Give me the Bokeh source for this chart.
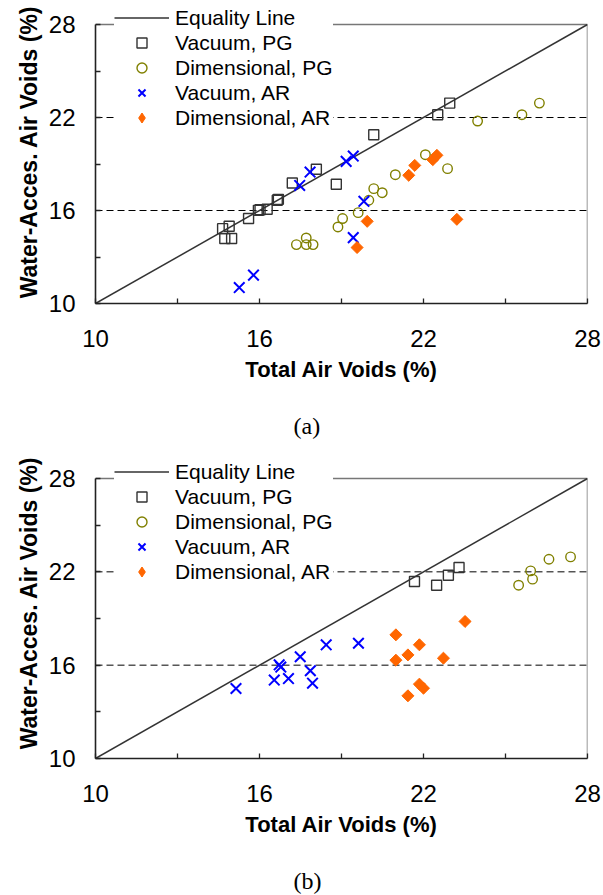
from bokeh.plotting import figure
from bokeh.models import (Range1d, FixedTicker, Span, Legend, LegendItem, Title)
from bokeh.layouts import column
from bokeh.embed import file_html
from bokeh.resources import INLINE
import numpy as np

# ---------------- data ----------------
axis_lim = [10, 28]
eq_line = [10, 28]
ref_levels = [16, 22]
major_ticks = [10, 16, 22, 28]
minor_ticks = [13, 19, 25]

# (a)
a_vac_pg_x = [14.65, 14.89, 14.73, 14.98, 15.60, 15.96, 16.02, 16.28, 16.65, 16.69, 17.20, 18.08, 18.81, 20.18, 22.52, 22.96]
a_vac_pg_y = [14.83, 14.98, 14.19, 14.19, 15.48, 16.01, 16.05, 16.08, 16.66, 16.72, 17.77, 18.66, 17.69, 20.89, 22.18, 22.93]
a_dim_pg_x = [17.35, 17.71, 17.71, 17.96, 18.87, 19.04, 19.61, 20.00, 20.18, 20.49, 20.97, 22.07, 22.88, 23.98, 25.60, 26.24]
a_dim_pg_y = [13.80, 13.80, 14.23, 13.80, 14.94, 15.48, 15.86, 16.66, 17.41, 17.15, 18.31, 19.60, 18.70, 21.77, 22.18, 22.93]
a_vac_ar_x = [15.26, 15.78, 17.47, 17.85, 19.17, 19.43, 19.43, 19.82]
a_vac_ar_y = [11.03, 11.83, 17.62, 18.48, 19.17, 19.51, 14.25, 16.59]
a_dim_ar_x = [19.57, 19.94, 21.46, 21.68, 22.34, 22.49, 23.22]
a_dim_ar_y = [13.61, 15.30, 18.27, 18.91, 19.28, 19.56, 15.43]

# (b)
b_vac_pg_x = [21.67, 22.48, 22.91, 23.30]
b_vac_pg_y = [21.38, 21.14, 21.78, 22.28]
b_dim_pg_x = [25.48, 25.92, 25.99, 26.59, 27.38]
b_dim_pg_y = [21.14, 22.06, 21.53, 22.81, 22.96]
b_vac_ar_x = [15.14, 16.54, 16.72, 16.78, 17.06, 17.49, 17.86, 17.94, 18.44, 19.62]
b_vac_ar_y = [14.50, 15.04, 16.02, 15.88, 15.14, 16.54, 15.64, 14.84, 17.31, 17.41]
b_dim_ar_x = [20.99, 20.99, 21.43, 21.85, 21.43, 21.85, 22.00, 22.73, 23.52]
b_dim_ar_y = [17.95, 16.32, 16.66, 17.31, 14.03, 14.78, 14.52, 16.45, 18.81]

x_title = "Total Air Voids (%)"
y_title = "Water-Acces. Air Voids (%)"
labels = ["Equality Line", "Vacuum, PG", "Dimensional, PG", "Vacuum, AR", "Dimensional, AR"]

SANS = "Liberation Sans"
SERIF = "Liberation Serif"

SQ = dict(marker="square", fill_color=None, line_color="#333333", line_width=1.4)
CI = dict(marker="circle", fill_color=None, line_color="#808000", line_width=1.4)
XX = dict(marker="x", line_color="#0000ff", line_width=2)
DI = dict(fill_color="#ff6600", line_color="#ff6600")


def make_plot(data, caption, gap_top, bottom_border, legend_top):
    vpx, vpy, dpx, dpy, vax, vay, dax, day = data
    box_h = 279 if gap_top < 28 else 280
    frame_h = box_h + gap_top
    y_top = axis_lim[0] + (axis_lim[1] - axis_lim[0]) * frame_h / box_h
    p = figure(output_backend="svg", toolbar_location=None,
               frame_width=492, frame_height=frame_h,
               min_border_left=95, min_border_right=16,
               min_border_top=0, min_border_bottom=bottom_border,
               x_range=Range1d(axis_lim[0], axis_lim[1]),
               y_range=Range1d(axis_lim[0], y_top),
               background_fill_color="white", border_fill_color="white")
    p.outline_line_color = None
    p.grid.visible = False

    for ax in (p.xaxis[0], p.yaxis[0]):
        ax.ticker = FixedTicker(ticks=major_ticks, minor_ticks=minor_ticks)
        ax.bounds = (axis_lim[0], axis_lim[1])
        ax.major_tick_in = 5
        ax.major_tick_out = 0
        ax.minor_tick_in = 5
        ax.minor_tick_out = 0
        ax.axis_line_color = "#222222"
        ax.axis_line_width = 1.6
        ax.major_tick_line_color = "#222222"
        ax.minor_tick_line_color = "#222222"
        ax.major_tick_line_width = 1.3
        ax.minor_tick_line_width = 1.3
        ax.major_label_text_font = SANS
        ax.major_label_text_font_size = "24px"
        ax.major_label_text_color = "black"
        ax.axis_label_text_font = SANS
        ax.axis_label_text_font_style = "bold"
        ax.axis_label_text_color = "black"

    p.xaxis.axis_label = x_title
    p.xaxis.axis_label_text_font_size = "22px"
    p.xaxis.major_label_standoff = 26
    p.xaxis.axis_label_standoff = 7
    p.yaxis.axis_label = y_title
    p.yaxis.axis_label_text_font_size = "23px"
    p.yaxis.major_label_standoff = 20
    p.yaxis.axis_label_standoff = 4

    # top and right border of the data box
    p.line(axis_lim, [axis_lim[1], axis_lim[1]], line_color="#777777", line_width=1.5)
    p.line([axis_lim[1], axis_lim[1]], axis_lim, line_color="#777777", line_width=1.5)

    for lv in ref_levels:
        p.add_layout(Span(location=lv, dimension="width", line_color="black",
                          line_width=1, line_dash="7 4", level="underlay"))

    r_eq = p.line(eq_line, eq_line, line_color="#333333", line_width=1.5)
    r_vpg = p.scatter(vpx, vpy, size=10, **SQ)
    r_dpg = p.scatter(dpx, dpy, size=9.5, **CI)
    r_var = p.scatter(vax, vay, size=15, **XX)
    # diamond-marker copy (hidden beneath the rotated squares) supplies the legend symbol
    r_dar = p.scatter(dax, day, marker="diamond", size=10, **DI)
    p.scatter(dax, day, marker="square", angle=np.pi / 4, size=8.5, **DI)

    items = [LegendItem(label=lab, renderers=[r]) for lab, r in
             zip(labels, [r_eq, r_vpg, r_dpg, r_var, r_dar])]
    leg_h = 2 * 5 + 5 * 25
    leg = Legend(items=items, location=(19, frame_h - legend_top - leg_h),
                 glyph_width=55, glyph_height=25, label_height=25,
                 label_standoff=6, spacing=0, padding=5, margin=0,
                 label_text_font=SANS, label_text_font_size="21px",
                 label_text_color="black",
                 background_fill_color="white", background_fill_alpha=1.0,
                 border_line_color=None)
    p.add_layout(leg)

    p.add_layout(Title(text="\n" + caption, text_font=SERIF, text_font_size="24px",
                       text_font_style="normal", text_color="black",
                       align="left", offset=198, standoff=0,
                       vertical_align="bottom"), "below")
    return p


p1 = make_plot((a_vac_pg_x, a_vac_pg_y, a_dim_pg_x, a_dim_pg_y,
                a_vac_ar_x, a_vac_ar_y, a_dim_ar_x, a_dim_ar_y), "(a)", 24, 144, -5)
p2 = make_plot((b_vac_pg_x, b_vac_pg_y, b_dim_pg_x, b_dim_pg_y,
                b_vac_ar_x, b_vac_ar_y, b_dim_ar_x, b_dim_ar_y), "(b)", 31, 137, 2)

layout = column(p1, p2, spacing=0)
open("out.html", "w").write(file_html(layout, INLINE))
